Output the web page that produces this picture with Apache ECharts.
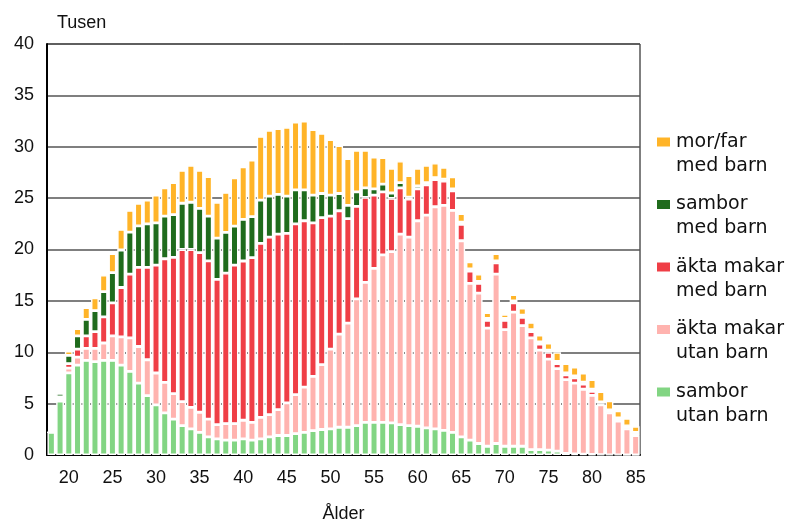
<!DOCTYPE html>
<html>
<head>
<meta charset="utf-8">
<script src="https://cdn.jsdelivr.net/npm/echarts@6/dist/echarts.min.js"></script>
<style>html,body{margin:0;padding:0;background:#fff;}#c{width:788px;height:525px;}</style>
</head>
<body>
<div id="c"></div>
<script>
// Ages 18..85
const ages = [18,19,20,21,22,23,24,25,26,27,28,29,30,31,32,33,34,35,36,37,38,39,40,41,42,43,44,45,46,47,48,49,50,51,52,53,54,55,56,57,58,59,60,61,62,63,64,65,66,67,68,69,70,71,72,73,74,75,76,77,78,79,80,81,82,83,84,85];

// thousands
const samborUtanBarn = [2.2,5.25,8.0,8.75,9.2,9.08,9.2,9.2,8.75,8.14,7.0,5.78,4.87,4.1,3.5,2.86,2.54,2.2,1.76,1.57,1.44,1.44,1.57,1.44,1.57,1.77,1.9,1.9,2.09,2.2,2.38,2.48,2.54,2.7,2.7,2.86,3.18,3.18,3.18,3.12,2.96,2.86,2.8,2.64,2.54,2.4,2.2,1.77,1.44,1.12,0.85,1.12,0.85,0.85,0.85,0.53,0.53,0.47,0.37,0.15,0.1,0.08,0.05,0.03,0.02,0.02,0,0];
const aktaUtanBarn = [0,0.2,0.45,0.78,1.17,1.29,1.7,2.4,2.75,3.26,3.56,3.49,3.11,2.97,2.47,2.33,2.1,1.96,1.74,1.39,1.62,1.62,1.81,1.74,2.1,2.16,2.52,3.17,3.78,4.4,5.27,6.32,7.76,9.07,10.13,12.34,13.62,14.99,16.29,16.68,18.54,18.34,20.0,20.71,21.62,21.9,21.6,19.08,15.26,14.63,11.5,16.48,11.35,13.05,11.75,10.87,9.67,8.87,8.03,7.18,6.9,6.32,5.75,4.84,4.08,3.28,2.54,1.9];
const aktaMedBarn = [0,0.2,0.45,0.77,1.23,1.63,2.55,3.2,4.8,6.2,7.71,9.0,10.49,12.03,13.27,14.81,15.36,15.54,15.4,14.14,14.64,15.41,15.5,16.02,16.93,17.27,17.08,16.5,16.63,16.2,14.95,14.3,12.95,12.0,10.17,9.0,8.27,7.13,6.13,5.17,4.5,3.7,3.1,2.95,2.64,2.35,1.9,1.6,1.2,0.95,0.75,1.1,0.9,0.9,0.8,0.6,0.6,0.66,0.5,0.47,0.5,0.5,0.4,0.15,0.15,0.15,0.15,0.15];
const samborMedBarn = [0,0.35,0.8,1.3,1.6,2.06,2.45,2.95,3.65,4.1,4.03,4.23,4.13,4.15,4.16,4.5,4.6,4.3,4.35,4.0,3.97,3.81,4.05,4.0,4.2,4.0,3.86,3.63,3.3,3.0,2.7,2.35,2.05,1.68,1.3,1.4,0.93,0.6,0.76,0.53,0.5,0.2,0.3,0.2,0.2,0.2,0.2,0.2,0.2,0.2,0.2,0.2,0.2,0.2,0.2,0.2,0.2,0.2,0.2,0.2,0.2,0.2,0.2,0.15,0.15,0.15,0.15,0.15];
const morFarMedBarn = [0,0.05,0.4,0.7,1.15,1.24,1.6,1.85,2.0,2.1,2.2,2.3,2.7,2.75,3.1,3.2,3.6,3.7,3.85,3.5,3.88,4.69,5.11,5.5,6.2,6.4,6.41,6.7,6.6,6.7,6.37,5.85,5.4,4.65,4.55,4.06,3.66,3.1,2.59,2.4,2.1,2.1,1.7,1.7,1.4,1.15,1.17,0.85,0.7,0.7,0.56,0.7,0.4,0.6,0.7,0.7,0.67,0.7,0.9,0.9,0.86,0.88,0.93,1.0,0.86,0.7,0.73,0.6];

const seriesNames = ['sambor\nutan barn','äkta makar\nutan barn','äkta makar\nmed barn','sambor\nmed barn','mor/far\nmed barn'];
const seriesData = [samborUtanBarn, aktaUtanBarn, aktaMedBarn, samborMedBarn, morFarMedBarn];
const colors = ['#82d583','#ffb3af','#ef3e46','#1f6b1c','#ffb428'];

const chart = echarts.init(document.getElementById('c'), null, {renderer:'canvas'});
const axisFont = {fontFamily:'Liberation Sans, Arial, sans-serif', fontSize:18, color:'#111'};
chart.setOption({
  animation:false,
  backgroundColor:'#fff',
  grid:{left:47, right:148, top:44, bottom:70, show:true, borderColor:'#000', borderWidth:1, outerBoundsMode:'none', containLabel:false},
  legend:{
    orient:'vertical', left:650, top:101, itemGap:-9.5,
    icon:'rect', itemWidth:15, itemHeight:11,
    data:[seriesNames[4],seriesNames[3],seriesNames[2],seriesNames[1],seriesNames[0]],
    formatter: n => '\n' + n,
    textStyle:{fontFamily:'DejaVu Sans, sans-serif', fontSize:19, lineHeight:24, color:'#111'},
    selectedMode:false
  },
  xAxis:{
    type:'category', data:ages.map(String),
    name:'Ålder', nameLocation:'middle', nameGap:50,
    nameTextStyle:axisFont,
    axisLine:{lineStyle:{color:'#000', width:2}},
    axisTick:{show:false},
    axisLabel:Object.assign({interval:(i,v)=> (+v)%5===0, margin:14}, axisFont),
    splitLine:{show:false}
  },
  yAxis:{
    type:'value', min:0, max:40, interval:5,
    name:'Tusen', nameLocation:'end', nameGap:12,
    nameTextStyle:Object.assign({align:'left', padding:[0,0,0,10]}, axisFont),
    axisLine:{show:true, lineStyle:{color:'#000', width:2}},
    axisTick:{show:false},
    axisLabel:Object.assign({margin:13}, axisFont),
    splitLine:{lineStyle:{color:'#555', width:1.5}}
  },
  series: seriesData.map((d,i)=>({
    name:seriesNames[i], type:'bar', stack:'total', data:d,
    barWidth:7.8,
    itemStyle:{color:colors[i], borderColor:'#fff', borderWidth:1.4},
    emphasis:{disabled:true}
  }))
});
</script>
</body>
</html>
